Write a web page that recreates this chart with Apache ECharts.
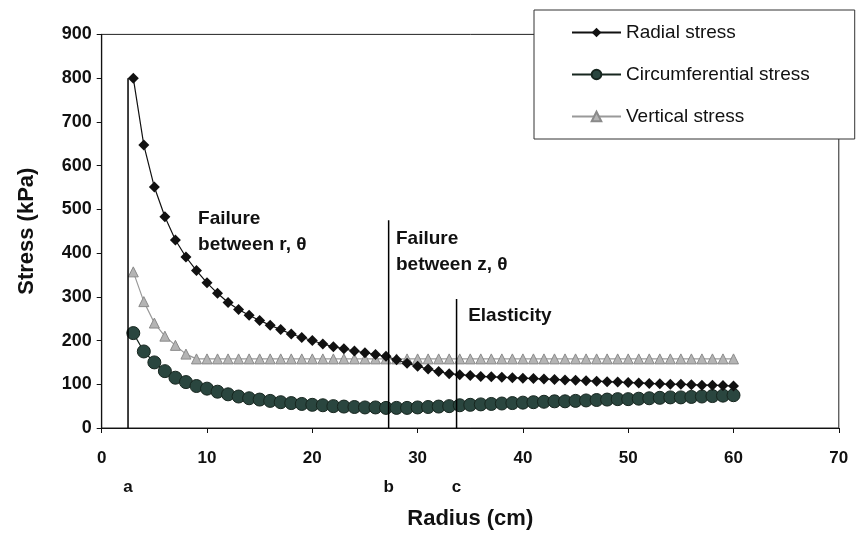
<!DOCTYPE html>
<html><head><meta charset="utf-8">
<script src="https://cdn.jsdelivr.net/npm/echarts@6/dist/echarts.min.js"></script>
<style>html,body{margin:0;padding:0;background:#fff}#c{width:859px;height:535px}</style>
</head><body><div id="c"></div>
<script>
// Radius (cm) of each computed point
const radius = [3,4,5,6,7,8,9,10,11,12,13,14,15,16,17,18,19,20,21,22,23,24,25,26,27,28,29,30,31,32,33,34,35,36,37,38,39,40,41,42,43,44,45,46,47,48,49,50,51,52,53,54,55,56,57,58,59,60];
// Stress values (kPa)
const radialStress = [800,647,551,483,430,391,360,332,308,287,271,258,246,235,225,215,207,200,192,186,181,176,172,168,164,156,148,141,135,129,124,122,120,118,117,116,115,114,113,112,111,110,109,108,107,106,105,104,103,102,101,100,100,99,98,98,97,96];
const circumferentialStress = [217,175,150,130,115,105,96,90,83,77,72,68,65,62,59,57,55,53,52,50,49,48,47,47,46,46,46,47,48,49,50,52,53,54,55,56,57,58,59,60,61,61,62,63,64,65,66,66,67,68,69,70,70,71,72,73,74,75];
const verticalStress = [357,289,240,210,189,169,158,158,158,158,158,158,158,158,158,158,158,158,158,158,158,158,158,158,158,158,158,158,158,158,158,158,158,158,158,158,158,158,158,158,158,158,158,158,158,158,158,158,158,158,158,158,158,158,158,158,158,158];
// Zone boundaries: radius, top of line, letter
const boundaryR = [2.5, 27.25, 33.7];
const boundaryTop = [800, 475, 295];
const boundaryLetter = ['a', 'b', 'c'];
// Zone annotations: text, anchor radius, anchor stress (top-left of text)
const noteText = ['Failure\nbetween r, \u03b8', 'Failure\nbetween z, \u03b8', 'Elasticity'];
const noteR = [9.15, 27.95, 34.8];
const noteS = [508, 463, 287];
const xTicks = {min: 0, max: 70, interval: 10};
const yTicks = {min: 0, max: 900, interval: 100};

const chart = echarts.init(document.getElementById('c'), null, {renderer: 'canvas'});
const zip = (a, b) => a.map((v, i) => [v, b[i]]);
const FONT = '"Liberation Sans", Arial, sans-serif';

const series = [
  {name: 'Radial stress', type: 'line', data: zip(radius, radialStress), symbol: 'diamond', symbolSize: 11,
   itemStyle: {color: '#111'}, lineStyle: {color: '#111', width: 1.2}, z: 5},
  {name: 'Circumferential stress', type: 'line', data: zip(radius, circumferentialStress), symbol: 'circle', symbolSize: 13,
   itemStyle: {color: '#2a463f', borderColor: '#17261f', borderWidth: 1}, lineStyle: {color: '#17261f', width: 1.2}, z: 4},
  {name: 'Vertical stress', type: 'line', data: zip(radius, verticalStress), symbol: 'triangle', symbolSize: 10,
   itemStyle: {color: '#b4b4b4', borderColor: '#8a8a8a', borderWidth: 1}, lineStyle: {color: '#999', width: 1.2}, z: 3}
];
boundaryR.forEach((r, i) => {
  series.push({type: 'line', data: [[r, 0], [r, boundaryTop[i]]], symbol: 'none', silent: true,
    lineStyle: {color: '#000', width: 1.5}, z: 6});
});

chart.setOption({
  animation: false,
  backgroundColor: '#fff',
  grid: {left: 101.7, right: 20.2, top: 34.4, bottom: 101.7, show: true, borderColor: '#222', borderWidth: 1, backgroundColor: 'transparent'},
  xAxis: {type: 'value', min: xTicks.min, max: xTicks.max, interval: xTicks.interval,
    name: 'Radius (cm)', nameLocation: 'middle', nameGap: 80,
    nameTextStyle: {fontFamily: FONT, fontWeight: 'bold', fontSize: 22, color: '#111'},
    axisLine: {lineStyle: {color: '#111', width: 1.2}}, axisTick: {length: 5, lineStyle: {color: '#111'}},
    axisLabel: {margin: 22, fontFamily: FONT, fontWeight: 'bold', fontSize: 17, color: '#111'},
    splitLine: {show: false}},
  yAxis: {type: 'value', min: yTicks.min, max: yTicks.max, interval: yTicks.interval,
    name: 'Stress (kPa)', nameLocation: 'middle', nameGap: 64,
    nameTextStyle: {fontFamily: FONT, fontWeight: 'bold', fontSize: 22, color: '#111'},
    axisLine: {show: true, lineStyle: {color: '#111', width: 1.2}}, axisTick: {show: true, length: 5, lineStyle: {color: '#111'}},
    axisLabel: {margin: 10, fontFamily: FONT, fontWeight: 'bold', fontSize: 18, color: '#111'},
    splitLine: {show: false}},
  legend: {data: ['Radial stress', 'Circumferential stress', 'Vertical stress'], orient: 'vertical',
    left: 534, top: 10, padding: [13, 45, 13, 37], itemGap: 23, itemWidth: 49, itemHeight: 12,
    backgroundColor: '#fff', borderColor: '#333', borderWidth: 1,
    textStyle: {fontFamily: FONT, fontSize: 19, color: '#111', lineHeight: 19}},
  series: series
});

const graphics = [];
boundaryR.forEach((r, i) => {
  const p = chart.convertToPixel({gridIndex: 0}, [r, 0]);
  graphics.push({type: 'text', x: p[0], y: p[1] + 59, style: {text: boundaryLetter[i], font: 'bold 17px ' + FONT, fill: '#111', textAlign: 'center', textVerticalAlign: 'middle'}});
});
noteText.forEach((t, i) => {
  const p = chart.convertToPixel({gridIndex: 0}, [noteR[i], noteS[i]]);
  graphics.push({type: 'text', x: p[0], y: p[1], style: {text: t, font: 'bold 19px ' + FONT, fill: '#111', textAlign: 'left', textVerticalAlign: 'top', lineHeight: 26}});
});
chart.setOption({graphic: graphics});
</script>
</body></html>
